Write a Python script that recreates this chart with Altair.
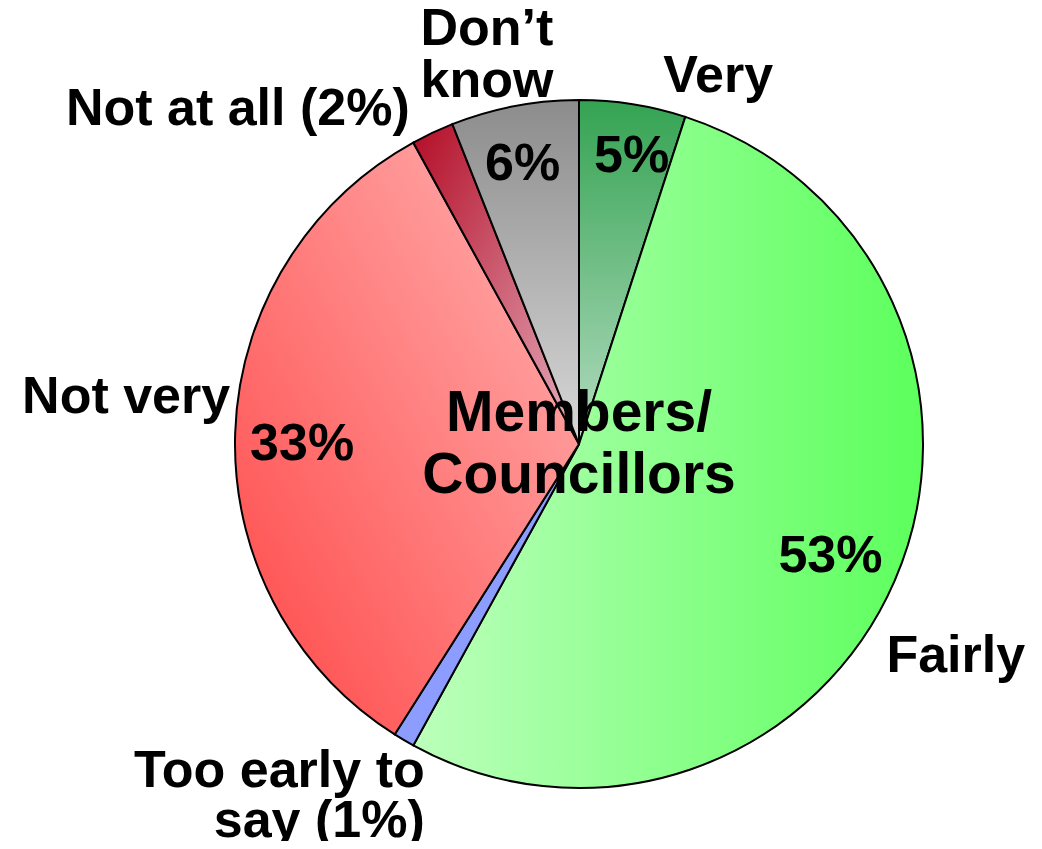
import altair as alt
import pandas as pd

# ---- data ----
categories = ["Very", "Fairly", "Too early to say", "Not very", "Not at all", "Don't know"]
values = [5, 53, 1, 33, 2, 6]
pct_labels = ["5%", "53%", "", "33%", "", "6%"]
outer_labels = ["Very", "Fairly", "Too early to\nsay (1%)", "Not very", "Not at all (2%)", "Don’t\nknow"]
center_title = ["Members/\nCouncillors"]

df = pd.DataFrame({
    "order": list(range(len(categories))),
    "category": categories,
    "value": values,
    "pct": pct_labels,
    "outer": outer_labels,
})
center_df = pd.DataFrame({"title": center_title})

FONT = "Liberation Sans"
theta_scale = alt.Scale(domain=[0, 100], range=[0, 6.283185307179586])


def lin(c0, c1, x1, y1, x2, y2):
    return {"gradient": "linear", "x1": x1, "y1": y1, "x2": x2, "y2": y2,
            "stops": [{"offset": 0, "color": c0}, {"offset": 1, "color": c1}]}


fills = {
    "Very": lin("#34a352", "#b4dcc0", 0, 0, 0, 1),
    "Fairly": lin("#bcffbc", "#5cff5c", 0, 0, 1, 0),
    "Too early to say": "#8c9cff",
    "Not very": lin("#ff4646", "#ffb4b4", 0, 1, 1, 0),
    "Not at all": lin("#b30d26", "#e6b0c0", 0, 0, 1, 1),
    "Don't know": lin("#8c8c8c", "#d8d8d8", 0, 0, 0, 1),
}

base = (
    alt.Chart(df)
    .transform_window(cum="sum(value)", frame=[None, 0], sort=[alt.SortField("order")])
    .transform_calculate(start="datum.cum - datum.value", mid="datum.cum - datum.value / 2")
)

layers = []
for cat in categories:
    layers.append(
        base.transform_filter(alt.datum.category == cat)
        .mark_arc(fill=fills[cat], stroke="black", strokeWidth=2)
        .encode(
            theta=alt.Theta("start:Q", scale=theta_scale),
            theta2=alt.Theta2("cum:Q"),
        )
    )

# (category, field, radius, dx, dy, align, lineHeight)
label_specs = [
    ("Very", "pct", 292, 7, 0, "center", 52),
    ("Fairly", "pct", 274, 0, 3, "center", 52),
    ("Not very", "pct", 277, 0, 9, "center", 52),
    ("Don't know", "pct", 285, -3, 0, "center", 52),
    ("Very", "outer", 372, 26, -1, "left", 52),
    ("Fairly", "outer", 360, -23, 69, "left", 52),
    ("Too early to say", "outer", 360, 29, 17, "right", 50),
    ("Not very", "outer", 360, 11, -36, "right", 52),
    ("Not at all", "outer", 360, -16, -9, "right", 52),
    ("Don't know", "outer", 390, -19, -32, "center", 52),
]

for cat, field, r, dx, dy, align, lh in label_specs:
    layers.append(
        base.transform_filter(alt.datum.category == cat)
        .mark_text(radius=r, dx=dx, dy=dy, align=align, baseline="middle",
                   font=FONT, fontWeight="bold", fontSize=52, color="black",
                   lineBreak="\n", lineHeight=lh)
        .encode(theta=alt.Theta("mid:Q", scale=theta_scale), text=f"{field}:N")
    )

layers.append(
    alt.Chart(center_df)
    .mark_text(align="center", baseline="middle", font=FONT, fontWeight="bold",
               fontSize=57, color="black", lineBreak="\n", lineHeight=62, dy=-30)
    .encode(text="title:N")
)

chart = (
    alt.layer(*layers)
    .properties(
        width=688,
        height=688,
        autosize=alt.AutoSizeParams(type="none"),
        padding={"left": 227, "top": 92, "right": 111, "bottom": 53},
        background="white",
    )
    .configure_view(strokeWidth=0)
)

chart.save("out.html", embed_options={"renderer": "svg", "actions": False})
